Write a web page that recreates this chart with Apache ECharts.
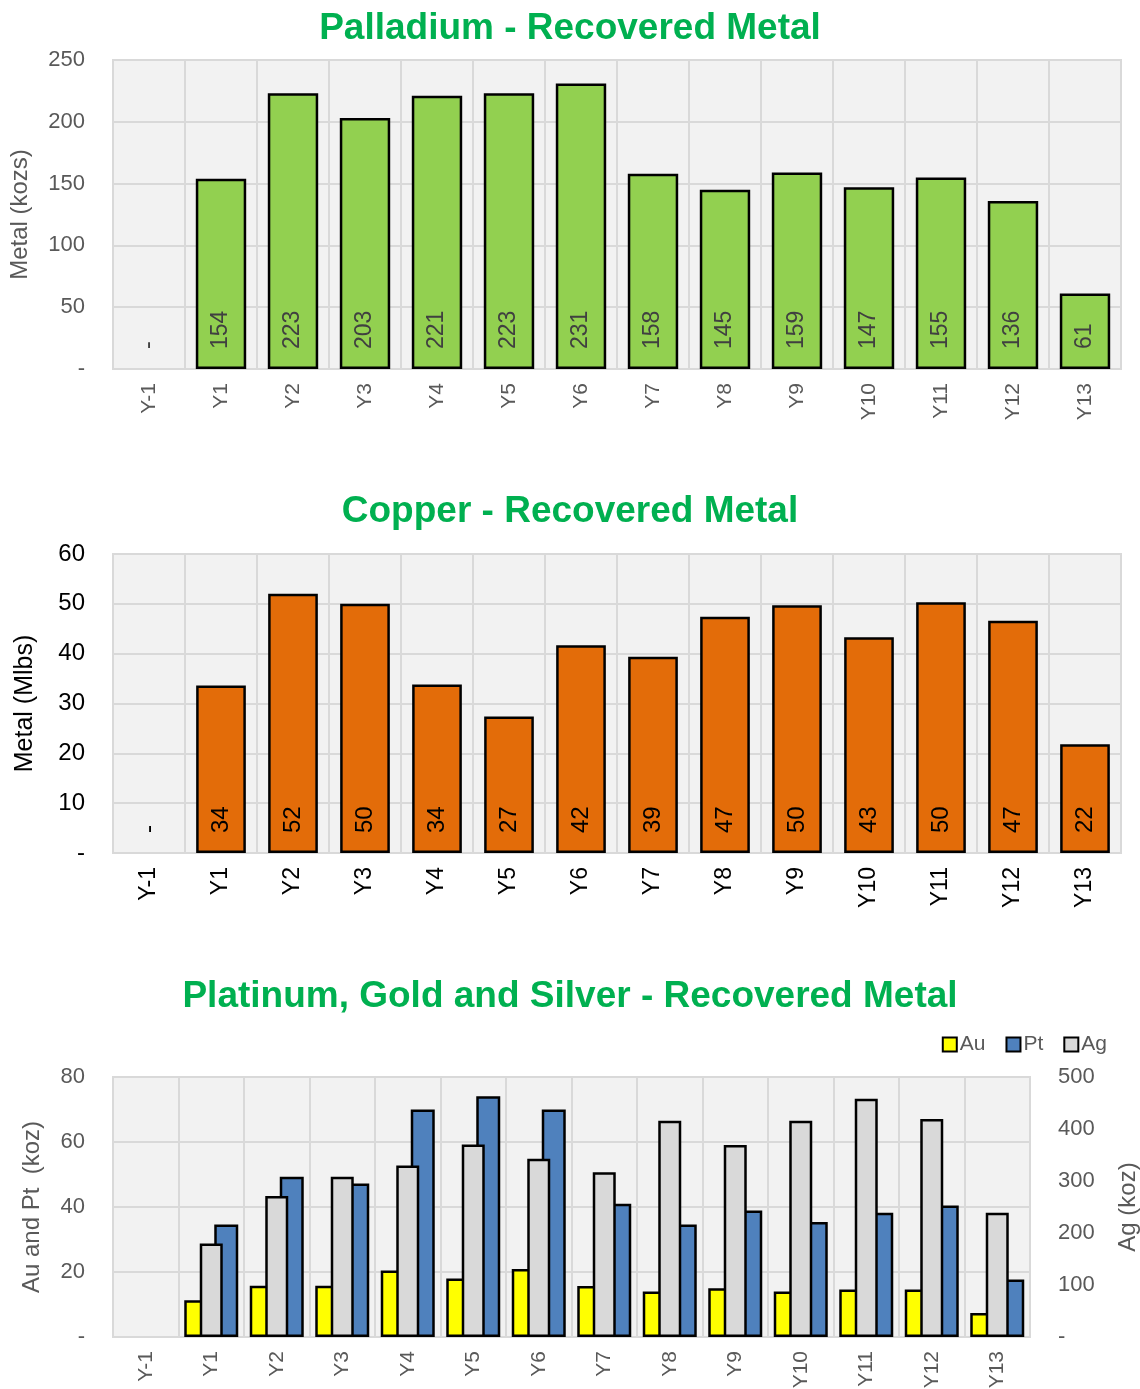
<!DOCTYPE html>
<html>
<head>
<meta charset="utf-8">
<script src="https://cdn.jsdelivr.net/npm/echarts@6/dist/echarts.min.js"></script>
<style>
  html, body { margin: 0; padding: 0; background: #ffffff; }
  #chart { width: 1140px; height: 1389px; }
</style>
</head>
<body>
<div id="chart"></div>
<script>
// ---- Data ----
const categories = ['Y-1', 'Y1', 'Y2', 'Y3', 'Y4', 'Y5', 'Y6', 'Y7', 'Y8', 'Y9', 'Y10', 'Y11', 'Y12', 'Y13'];
const palladium = [0, 154, 223, 203, 221, 223, 231, 158, 145, 159, 147, 155, 136, 61];
const copper = [0, 33.6, 52.0, 50.0, 33.8, 27.4, 41.7, 39.4, 47.4, 49.7, 43.3, 50.3, 46.6, 21.8];
const gold = [null, 11.3, 15.8, 15.8, 20.5, 18.0, 20.9, 15.7, 14.0, 15.0, 14.0, 14.6, 14.6, 7.4];
const platinum = [null, 34.6, 49.3, 47.2, 70.0, 74.1, 70.0, 41.0, 34.6, 38.9, 35.4, 38.2, 40.5, 17.7];
const silver = [null, 180, 271, 308, 330, 370, 343, 317, 416, 369, 416, 458, 419, 239];
const palladiumTicks = [0, 50, 100, 150, 200, 250];
const copperTicks = [0, 10, 20, 30, 40, 50, 60];
const auPtTicks = [0, 20, 40, 60, 80];
const agTicks = [0, 100, 200, 300, 400, 500];

const FONT = 'Liberation Sans, Arial, sans-serif';
const GRAY = '#595959';
const GRID_LINE = '#D9D9D9';
const TITLE_GREEN = '#00B050';

function zeroDash(v) { return v === 0 ? '-' : String(v); }

function barData(arr) {
  return arr.map(v => (v === 0 ? { value: 0, itemStyle: { borderWidth: 0 } } : v));
}

function titleCfg(text, top) {
  return {
    text: text, left: 'center', top: top,
    textStyle: { color: TITLE_GREEN, fontSize: 37, fontWeight: 'bold', fontFamily: FONT }
  };
}

function xAxisCfg(gridIndex, color, fontSize) {
  return {
    type: 'category', gridIndex: gridIndex, data: categories,
    axisLine: { lineStyle: { color: GRID_LINE, width: 2 } },
    axisTick: { show: false },
    splitLine: { show: true, lineStyle: { color: GRID_LINE, width: 2 } },
    axisLabel: { rotate: 90, margin: 14, color: color, fontSize: fontSize, fontFamily: FONT, interval: 0 }
  };
}

function yAxisCfg(gridIndex, ticks, name, color, fontSize, nameSize, nameGap, showSplit, position) {
  return {
    type: 'value', gridIndex: gridIndex, position: position || 'left',
    min: ticks[0], max: ticks[ticks.length - 1], interval: ticks[1] - ticks[0],
    name: name, nameLocation: 'middle', nameRotate: 90, nameGap: nameGap,
    nameTextStyle: { color: color, fontSize: nameSize, fontFamily: FONT },
    axisLine: { show: false }, axisTick: { show: false },
    splitLine: { show: showSplit, lineStyle: { color: GRID_LINE, width: 2 } },
    axisLabel: { formatter: zeroDash, color: color, fontSize: fontSize, fontFamily: FONT, margin: 28 }
  };
}

const gridBase = {
  show: true, backgroundColor: '#F2F2F2', borderColor: GRID_LINE, borderWidth: 2,
  containLabel: false, outerBoundsMode: 'none'
};

const option = {
  animation: false,
  backgroundColor: '#ffffff',
  title: [
    titleCfg('Palladium - Recovered Metal', 5),
    titleCfg('Copper - Recovered Metal', 488),
    titleCfg('Platinum, Gold and Silver - Recovered Metal', 973)
  ],
  legend: {
    data: ['Au', 'Pt', 'Ag'],
    right: 28, top: 1029,
    itemWidth: 14, itemHeight: 14, itemGap: 20,
    icon: 'rect',
    textStyle: { color: GRAY, fontSize: 21, fontFamily: FONT, padding: [0, 0, 0, -2] }
  },
  grid: [
    Object.assign({ left: 113, top: 60, width: 1008, height: 309 }, gridBase),
    Object.assign({ left: 113, top: 554, width: 1008, height: 299 }, gridBase),
    Object.assign({ left: 113, top: 1077, width: 917, height: 260 }, gridBase)
  ],
  xAxis: [
    xAxisCfg(0, GRAY, 21),
    xAxisCfg(1, '#000000', 23),
    xAxisCfg(2, GRAY, 21),
    { type: 'category', gridIndex: 2, data: categories, show: false }
  ],
  yAxis: [
    yAxisCfg(0, palladiumTicks, 'Metal (kozs)', GRAY, 22, 24, 81, true),
    yAxisCfg(1, copperTicks, 'Metal (Mlbs)', '#000000', 24, 25, 75, true),
    yAxisCfg(2, auPtTicks, 'Au and Pt  (koz)', GRAY, 22, 24, 69, true),
    yAxisCfg(2, agTicks, 'Ag (koz)', GRAY, 22, 24, 86, false, 'right')
  ],
  series: [
    {
      name: 'Palladium', type: 'bar', xAxisIndex: 0, yAxisIndex: 0,
      data: barData(palladium), barCategoryGap: '30%',
      itemStyle: { color: '#92D050', borderColor: '#000000', borderWidth: 2.5 },
      label: {
        show: true, position: 'insideBottom', rotate: 90, align: 'left', verticalAlign: 'middle',
        distance: 20, color: '#404040', fontSize: 23, fontFamily: FONT,
        formatter: p => (p.value === 0 ? '-' : String(Math.round(p.value)))
      }
    },
    {
      name: 'Copper', type: 'bar', xAxisIndex: 1, yAxisIndex: 1,
      data: barData(copper), barCategoryGap: '31%',
      itemStyle: { color: '#E36C09', borderColor: '#000000', borderWidth: 2.5 },
      label: {
        show: true, position: 'insideBottom', rotate: 90, align: 'left', verticalAlign: 'middle',
        distance: 20, color: '#000000', fontSize: 24, fontFamily: FONT,
        formatter: p => (p.value === 0 ? '-' : String(Math.round(p.value)))
      }
    },
    {
      name: 'Au', type: 'bar', xAxisIndex: 2, yAxisIndex: 2,
      data: gold, barWidth: 24, barGap: '25%',
      itemStyle: { color: '#FFFF00', borderColor: '#000000', borderWidth: 2.5 }
    },
    {
      name: 'Pt', type: 'bar', xAxisIndex: 2, yAxisIndex: 2,
      data: platinum, barWidth: 24, barGap: '25%',
      itemStyle: { color: '#4F81BD', borderColor: '#000000', borderWidth: 2.5 }
    },
    {
      name: 'Ag', type: 'bar', xAxisIndex: 3, yAxisIndex: 3,
      data: silver, barWidth: 23,
      itemStyle: { color: '#D9D9D9', borderColor: '#000000', borderWidth: 2.5 }
    }
  ]
};

const chart = echarts.init(document.getElementById('chart'), null, { renderer: 'canvas' });
chart.setOption(option);
</script>
</body>
</html>
